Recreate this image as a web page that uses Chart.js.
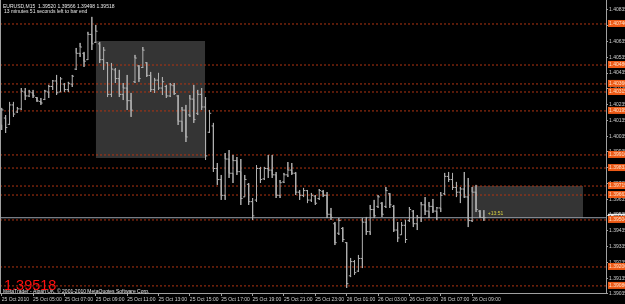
<!DOCTYPE html>
<html>
<head>
<meta charset="utf-8">
<script src="https://cdn.jsdelivr.net/npm/chart.js@4.4.0/dist/chart.umd.min.js"></script>
<style>
  html, body { margin: 0; padding: 0; background: #000; }
  #wrap { width: 625px; height: 304px; }
</style>
</head>
<body>
<div id="wrap"><canvas id="chart" width="625" height="304"></canvas></div>
<script>
// EURUSD M15, 25 Oct 03:00 .. 26 Oct 09:45
const symbol = 'EURUSD,M15';
const timeTickBars = [0, 8, 16, 24, 32, 40, 48, 56, 64, 72, 80, 88, 96, 104, 112, 120];
const timeLabels = ['25 Oct 2010', '25 Oct 05:00', '25 Oct 07:00', '25 Oct 09:00', '25 Oct 11:00',
    '25 Oct 13:00', '25 Oct 15:00', '25 Oct 17:00', '25 Oct 19:00', '25 Oct 21:00', '25 Oct 23:00',
    '26 Oct 01:00', '26 Oct 03:00', '26 Oct 05:00', '26 Oct 07:00', '26 Oct 09:00'];

const opens = [1.40106, 1.40150, 1.40110, 1.40233, 1.40188, 1.40208, 1.40315, 1.40290, 1.40310, 1.40280,
    1.40255, 1.40268, 1.40315, 1.40350, 1.40385, 1.40315, 1.40365, 1.40330, 1.40365, 1.40460,
    1.40560, 1.40560, 1.40520, 1.40680, 1.40630, 1.40620, 1.40520, 1.40500, 1.40300, 1.40455,
    1.40400, 1.40300, 1.40340, 1.40260, 1.40380, 1.40480, 1.40470, 1.40500, 1.40420, 1.40330,
    1.40390, 1.40340, 1.40350, 1.40290, 1.40355, 1.40290, 1.40130, 1.40200, 1.40170, 1.40270,
    1.40180, 1.40300, 1.40220, 1.40060, 1.40100, 1.39830, 1.39760, 1.39660, 1.39890, 1.39800,
    1.39880, 1.39810, 1.39650, 1.39730, 1.39620, 1.39630, 1.39830, 1.39765, 1.39830, 1.39820,
    1.39790, 1.39660, 1.39745, 1.39790, 1.39820, 1.39800, 1.39680, 1.39660, 1.39690, 1.39630,
    1.39655, 1.39640, 1.39685, 1.39660, 1.39540, 1.39480, 1.39420, 1.39450, 1.39360, 1.39150,
    1.39240, 1.39180, 1.39260, 1.39490, 1.39430, 1.39570, 1.39590, 1.39610, 1.39590, 1.39670,
    1.39590, 1.39440, 1.39410, 1.39470, 1.39500, 1.39560, 1.39480, 1.39520, 1.39600, 1.39560,
    1.39590, 1.39560, 1.39580, 1.39670, 1.39780, 1.39760, 1.39710, 1.39680, 1.39700, 1.39650,
    1.39500, 1.39680, 1.39560, 1.39520];
const highs = [1.40214, 1.40169, 1.40252, 1.40252, 1.40220, 1.40340, 1.40340, 1.40328, 1.40328, 1.40283,
    1.40277, 1.40328, 1.40360, 1.40391, 1.40423, 1.40410, 1.40372, 1.40379, 1.40423, 1.40594,
    1.40626, 1.40569, 1.40696, 1.40791, 1.40740, 1.40632, 1.40600, 1.40505, 1.40499, 1.40467,
    1.40455, 1.40372, 1.40423, 1.40309, 1.40550, 1.40486, 1.40600, 1.40505, 1.40442, 1.40404,
    1.40436, 1.40410, 1.40360, 1.40372, 1.40372, 1.40296, 1.40220, 1.40233, 1.40296, 1.40360,
    1.40328, 1.40340, 1.40283, 1.40201, 1.40119, 1.39865, 1.39789, 1.39928, 1.39947, 1.39916,
    1.39903, 1.39890, 1.39789, 1.39738, 1.39643, 1.39852, 1.39840, 1.39840, 1.39916, 1.39916,
    1.39808, 1.39757, 1.39802, 1.39871, 1.39865, 1.39808, 1.39694, 1.39707, 1.39694, 1.39675,
    1.39662, 1.39700, 1.39694, 1.39681, 1.39580, 1.39491, 1.39516, 1.39459, 1.39364, 1.39263,
    1.39250, 1.39282, 1.39516, 1.39523, 1.39599, 1.39631, 1.39662, 1.39618, 1.39713, 1.39675,
    1.39599, 1.39491, 1.39491, 1.39504, 1.39586, 1.39567, 1.39535, 1.39618, 1.39649, 1.39618,
    1.39637, 1.39586, 1.39681, 1.39802, 1.39808, 1.39802, 1.39745, 1.39713, 1.39808, 1.39770,
    1.39713, 1.39726, 1.39567, 1.39566];
const lows = [1.40074, 1.40055, 1.40106, 1.40157, 1.40182, 1.40201, 1.40264, 1.40283, 1.40277, 1.40252,
    1.40233, 1.40264, 1.40277, 1.40328, 1.40296, 1.40328, 1.40315, 1.40315, 1.40347, 1.40455,
    1.40537, 1.40474, 1.40518, 1.40581, 1.40626, 1.40499, 1.40455, 1.40283, 1.40283, 1.40372,
    1.40283, 1.40264, 1.40201, 1.40157, 1.40372, 1.40379, 1.40467, 1.40410, 1.40315, 1.40309,
    1.40328, 1.40296, 1.40277, 1.40283, 1.40296, 1.40106, 1.40062, 1.39998, 1.40157, 1.40119,
    1.40169, 1.40201, 1.39884, 1.40055, 1.39808, 1.39726, 1.39631, 1.39631, 1.39770, 1.39738,
    1.39789, 1.39599, 1.39649, 1.39599, 1.39504, 1.39618, 1.39738, 1.39757, 1.39770, 1.39770,
    1.39643, 1.39643, 1.39738, 1.39776, 1.39789, 1.39662, 1.39631, 1.39649, 1.39611, 1.39618,
    1.39599, 1.39631, 1.39649, 1.39516, 1.39504, 1.39345, 1.39409, 1.39364, 1.39073, 1.39142,
    1.39155, 1.39174, 1.39199, 1.39409, 1.39409, 1.39516, 1.39580, 1.39523, 1.39580, 1.39580,
    1.39428, 1.39364, 1.39409, 1.39358, 1.39491, 1.39459, 1.39440, 1.39491, 1.39535, 1.39516,
    1.39548, 1.39504, 1.39554, 1.39662, 1.39745, 1.39694, 1.39649, 1.39611, 1.39643, 1.39459,
    1.39491, 1.39554, 1.39516, 1.39498];
const closes = [1.40201, 1.40090, 1.40233, 1.40175, 1.40208, 1.40320, 1.40290, 1.40315, 1.40290, 1.40258,
    1.40245, 1.40320, 1.40350, 1.40385, 1.40310, 1.40398, 1.40330, 1.40370, 1.40415, 1.40560,
    1.40600, 1.40510, 1.40680, 1.40620, 1.40700, 1.40520, 1.40580, 1.40300, 1.40460, 1.40400,
    1.40300, 1.40340, 1.40260, 1.40200, 1.40530, 1.40400, 1.40580, 1.40420, 1.40330, 1.40390,
    1.40340, 1.40380, 1.40290, 1.40360, 1.40305, 1.40130, 1.40200, 1.40030, 1.40270, 1.40140,
    1.40300, 1.40220, 1.39910, 1.40180, 1.39830, 1.39760, 1.39660, 1.39890, 1.39800, 1.39880,
    1.39810, 1.39640, 1.39760, 1.39620, 1.39530, 1.39830, 1.39760, 1.39830, 1.39820, 1.39790,
    1.39660, 1.39740, 1.39790, 1.39820, 1.39800, 1.39680, 1.39660, 1.39690, 1.39630, 1.39660,
    1.39610, 1.39690, 1.39660, 1.39540, 1.39520, 1.39360, 1.39500, 1.39380, 1.39100, 1.39240,
    1.39170, 1.39260, 1.39490, 1.39430, 1.39570, 1.39530, 1.39650, 1.39540, 1.39690, 1.39600,
    1.39440, 1.39390, 1.39470, 1.39380, 1.39570, 1.39480, 1.39520, 1.39600, 1.39560, 1.39590,
    1.39560, 1.39580, 1.39660, 1.39780, 1.39760, 1.39710, 1.39680, 1.39700, 1.39650, 1.39500,
    1.39680, 1.39570, 1.39520, 1.39518];

// price scale labels and horizontal lines
const priceTicks = [1.39035, 1.39135, 1.39235, 1.39335, 1.39435, 1.39535, 1.39635, 1.39735, 1.39835, 1.39935,
    1.40035, 1.40135, 1.40235, 1.40335, 1.40435, 1.40535, 1.40635, 1.40735, 1.40835];
const levelPrices = [1.40746, 1.40486, 1.40366, 1.40315, 1.40195, 1.39916, 1.39833, 1.39719,
    1.39662, 1.39504, 1.39206, 1.39086];

// rectangles (bar index from/to, price top/bottom)
const boxStart = [24, 120];
const boxEnd = [51.9, 148.3];
const boxTop = [1.40638, 1.39719];
const boxBottom = [1.39897, 1.39516];

const timeLeft = '13:51';
const bid = closes[closes.length - 1];
const last = opens.length - 1;

const priceMin = 1.39041, priceMax = 1.40898;
const xMin = -0.434, xMax = 154.15;

const fontSmall = {family: '"Liberation Sans", Arial, sans-serif', size: 5};

// one polyline per bar: open tick, high-low stick, close tick
const barPath = [];
opens.forEach((o, i) => {
    barPath.push({x: i - 0.45, y: o}, {x: i, y: o}, {x: i, y: highs[i]}, {x: i, y: lows[i]},
        {x: i, y: closes[i]}, {x: i + 0.45, y: closes[i]}, {x: i + 0.5, y: null});
});

const datasets = [{
    data: barPath,
    borderColor: '#b0b0b0',
    borderWidth: 1,
    borderJoinStyle: 'bevel',
    pointRadius: 0,
    spanGaps: false,
    tension: 0,
    fill: false
}, {
    data: [{x: xMin, y: bid}, {x: xMax, y: bid}],
    borderColor: '#9aa2ac',
    borderWidth: 1,
    pointRadius: 0,
    fill: false
}];

levelPrices.forEach(p => {
    datasets.push({
        data: [{x: xMin, y: p}, {x: xMax, y: p}],
        borderColor: '#b03412',
        borderWidth: 1,
        borderDash: [2, 2],
        pointRadius: 0,
        fill: false
    });
});

boxStart.forEach((s, k) => {
    datasets.push({
        data: [{x: s, y: boxTop[k]}, {x: boxEnd[k], y: boxTop[k]}],
        borderColor: 'rgba(0,0,0,0)',
        borderWidth: 0,
        backgroundColor: '#343434',
        pointRadius: 0,
        fill: '+1'
    });
    datasets.push({
        data: [{x: s, y: boxBottom[k]}, {x: boxEnd[k], y: boxBottom[k]}],
        borderColor: 'rgba(0,0,0,0)',
        borderWidth: 0,
        pointRadius: 0,
        fill: false
    });
});

// texts that MetaTrader draws inside the chart window
const overlay = {
    id: 'overlay',
    afterDraw(chart) {
        const ctx = chart.ctx;
        const a = chart.chartArea;
        ctx.save();
        ctx.strokeStyle = '#a0a0a0';
        ctx.lineWidth = 1;
        ctx.beginPath();
        ctx.moveTo(a.left + 0.5, a.top);
        ctx.lineTo(a.left + 0.5, a.bottom);
        ctx.stroke();

        ctx.textBaseline = 'alphabetic';
        ctx.textAlign = 'left';
        ctx.font = '5px "Liberation Sans", Arial, sans-serif';
        ctx.fillStyle = '#e8e8e8';
        ctx.fillText(symbol + '  ' + [opens[last], highs[last], lows[last], closes[last]].map(v => v.toFixed(5)).join(' '), 3, 7.5);
        ctx.fillText('13 minutes 51 seconds left to bar end', 4, 12.5);
        ctx.fillText('MetaTrader - Alpari UK, \u00a9 2001-2010 MetaQuotes Software Corp.', 3, a.bottom - 0.5);

        ctx.font = '14.5px "Liberation Sans", Arial, sans-serif';
        ctx.fillStyle = '#ff1010';
        ctx.fillText(bid.toFixed(5), 4, a.bottom - 3.5);

        const x = chart.scales.x.getPixelForValue(last + 1);
        const y = chart.scales.y.getPixelForValue(bid);
        ctx.font = '5px "Liberation Sans", Arial, sans-serif';
        ctx.fillStyle = '#d8d040';
        ctx.fillText('+' + timeLeft, x, y - 3);
        ctx.restore();
    }
};

new Chart(document.getElementById('chart'), {
    type: 'line',
    data: {datasets},
    plugins: [overlay],
    options: {
        responsive: false,
        animation: false,
        layout: {padding: 0},
        plugins: {legend: {display: false}, tooltip: {enabled: false}, title: {display: false}},
        scales: {
            x: {
                type: 'linear',
                min: xMin,
                max: xMax,
                afterBuildTicks: s => { s.ticks = timeTickBars.map(v => ({value: v})); },
                afterFit: s => { s.height = 11; s.paddingLeft = 0; s.paddingRight = 0; },
                border: {display: true, color: '#a0a0a0'},
                grid: {drawOnChartArea: false, drawTicks: true, tickLength: 3, color: '#a0a0a0'},
                ticks: {
                    autoSkip: false,
                    maxRotation: 0,
                    align: 'start',
                    padding: 1,
                    color: '#d0d0d0',
                    font: fontSmall,
                    callback: v => timeLabels[timeTickBars.indexOf(v)]
                }
            },
            y: {
                type: 'linear',
                position: 'right',
                min: priceMin,
                max: priceMax,
                afterBuildTicks: s => {
                    s.ticks = priceTicks.map(v => ({value: v, kind: 'tick'}))
                        .concat([{value: bid, kind: 'bid'}])
                        .concat(levelPrices.map(v => ({value: v, kind: 'level'})));
                },
                afterFit: s => { s.width = 19; s.paddingTop = 0; s.paddingBottom = 0; },
                border: {display: true, color: '#a0a0a0'},
                grid: {
                    drawOnChartArea: false,
                    drawTicks: true,
                    tickLength: 2,
                    color: c => (c.tick && c.tick.kind === 'tick') ? '#a0a0a0' : 'rgba(0,0,0,0)'
                },
                ticks: {
                    autoSkip: false,
                    padding: 1,
                    font: fontSmall,
                    color: c => {
                        const k = c.tick && c.tick.kind;
                        return k === 'level' ? '#ffe0c8' : (k === 'bid' ? '#000000' : '#d0d0d0');
                    },
                    showLabelBackdrop: c => !!(c.tick && c.tick.kind !== 'tick'),
                    backdropColor: c => {
                        const k = c.tick && c.tick.kind;
                        return k === 'level' ? '#ee5a16' : (k === 'bid' ? '#f0f0f0' : 'rgba(0,0,0,0)');
                    },
                    backdropPadding: {top: 1, bottom: 0, left: 1, right: 3},
                    callback: v => v.toFixed(5)
                }
            }
        }
    }
});
</script>
</body>
</html>
